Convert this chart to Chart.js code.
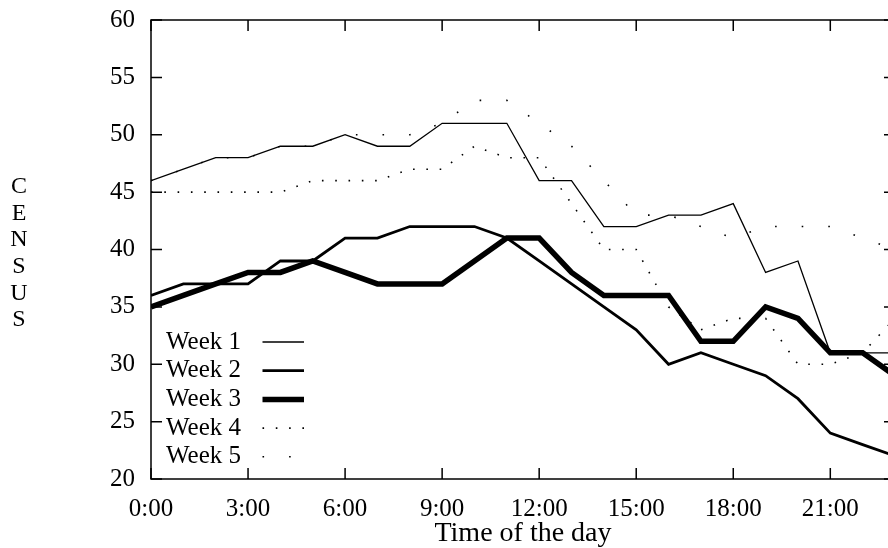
<!DOCTYPE html>
<html>
<head>
<meta charset="utf-8">
<script src="https://cdn.jsdelivr.net/npm/chart.js@4.4.0/dist/chart.umd.min.js"></script>
<style>
  html, body { margin: 0; padding: 0; background: #fff; overflow: hidden; }
  #wrap { width: 900px; height: 548px; }
</style>
</head>
<body>
<div id="wrap"><canvas id="census" width="900" height="548"></canvas></div>
<script>
// Saat ve haftalık değerler
const hours = [0, 1, 2, 3, 4, 5, 6, 7, 8, 9, 10, 11, 12, 13, 14, 15, 16, 17, 18, 19, 20, 21, 22, 23];
const week1 = [46, 47, 48, 48, 49, 49, 50, 49, 49, 51, 51, 51, 46, 46, 42, 42, 43, 43, 44, 38, 39, 31, 31, 31];
const week2 = [36, 37, 37, 37, 39, 39, 41, 41, 42, 42, 42, 41, 39, 37, 35, 33, 30, 31, 30, 29, 27, 24, 23, 22];
const week3 = [35, 36, 37, 38, 38, 39, 38, 37, 37, 37, 39, 41, 41, 38, 36, 36, 36, 32, 32, 35, 34, 31, 31, 29];
const week4 = [45, 45, 45, 45, 45, 46, 46, 46, 47, 47, 49, 48, 48, 44, 40, 40, 35, 33, 34, 34, 30, 30, 31, 34];
const week5 = [46, 47, 48, 48, 49, 49, 50, 50, 50, 51, 53, 53, 51, 49, 46, 43, 43, 42, 41, 42, 42, 42, 41, 40];
const weekLabels = ['Week 1', 'Week 2', 'Week 3', 'Week 4', 'Week 5'];
const yLabelLetters = ['C', 'E', 'N', 'S', 'U', 'S'];

const serif = '"Liberation Serif", "Times New Roman", serif';

function toPoints(values) {
    return hours.map((h, i) => ({ x: h, y: values[i] }));
}

const styles = [
    { borderWidth: 1.3, borderDash: [] },
    { borderWidth: 2.8, borderDash: [] },
    { borderWidth: 5.5, borderDash: [] },
    { borderWidth: 1.6, borderDash: [1.6, 11.7] },
    { borderWidth: 1.6, borderDash: [1.6, 25] }
];

const datasets = [week1, week2, week3, week4, week5].map((values, i) => ({
    label: weekLabels[i],
    data: toPoints(values),
    borderColor: '#000',
    borderWidth: styles[i].borderWidth,
    borderDash: styles[i].borderDash,
    borderCapStyle: 'butt',
    borderJoinStyle: 'miter',
    pointRadius: 0,
    tension: 0,
    fill: false
}));

// Çerçeve, içe dönük tik çizgileri, lejant ve dikey eksen yazısı
const framePlugin = {
    id: 'frame',
    afterDraw(chart) {
        const { ctx, chartArea: a, scales } = chart;
        const x = scales.x, y = scales.y;
        const tick = 11;
        ctx.save();
        ctx.strokeStyle = '#000';
        ctx.lineWidth = 1.5;
        ctx.strokeRect(a.left, a.top, a.right - a.left, a.bottom - a.top);
        ctx.beginPath();
        x.ticks.forEach(t => {
            const px = x.getPixelForValue(t.value);
            ctx.moveTo(px, a.bottom); ctx.lineTo(px, a.bottom - tick);
            ctx.moveTo(px, a.top); ctx.lineTo(px, a.top + tick);
        });
        y.ticks.forEach(t => {
            const py = y.getPixelForValue(t.value);
            ctx.moveTo(a.left, py); ctx.lineTo(a.left + tick, py);
            ctx.moveTo(a.right, py); ctx.lineTo(a.right - tick, py);
        });
        ctx.stroke();

        // lejant
        ctx.font = '25px ' + serif;
        ctx.fillStyle = '#000';
        ctx.textAlign = 'left';
        ctx.textBaseline = 'middle';
        chart.data.datasets.forEach((ds, i) => {
            const ly = 342 + i * 28.7;
            ctx.fillText(ds.label, 166, ly);
            ctx.beginPath();
            ctx.lineWidth = ds.borderWidth;
            ctx.setLineDash(ds.borderDash);
            ctx.lineCap = 'butt';
            ctx.moveTo(262.5, ly);
            ctx.lineTo(304, ly);
            ctx.stroke();
        });
        ctx.setLineDash([]);

        // CENSUS
        ctx.textAlign = 'center';
        ctx.font = '24px ' + serif;
        yLabelLetters.forEach((ch, i) => {
            ctx.fillText(ch, 19, 187 + i * 26.6);
        });
        ctx.restore();
    }
};

new Chart(document.getElementById('census'), {
    type: 'line',
    data: { datasets },
    options: {
        responsive: false,
        animation: false,
        events: [],
        layout: { padding: { top: 20, right: 5, left: 0, bottom: 0 } },
        plugins: {
            legend: { display: false },
            tooltip: { enabled: false }
        },
        scales: {
            x: {
                type: 'linear',
                min: 0,
                max: 23,
                grid: { display: false, drawTicks: false },
                border: { display: false },
                ticks: {
                    stepSize: 3,
                    includeBounds: false,
                    padding: 15,
                    color: '#000',
                    font: { family: serif, size: 25 },
                    maxRotation: 0,
                    callback: v => v + ':00'
                },
                title: {
                    display: true,
                    text: 'Time of the day',
                    color: '#000',
                    font: { family: serif, size: 28, lineHeight: 1.0 },
                    padding: { top: 0, bottom: 0 }
                },
                afterFit: s => { s.height = 69; }
            },
            y: {
                min: 20,
                max: 60,
                grid: { display: false, drawTicks: false },
                border: { display: false },
                ticks: {
                    stepSize: 5,
                    padding: 16,
                    color: '#000',
                    font: { family: serif, size: 25, lineHeight: 0.3 }
                },
                afterFit: s => { s.width = 151; }
            }
        }
    },
    plugins: [framePlugin]
});
</script>
</body>
</html>
